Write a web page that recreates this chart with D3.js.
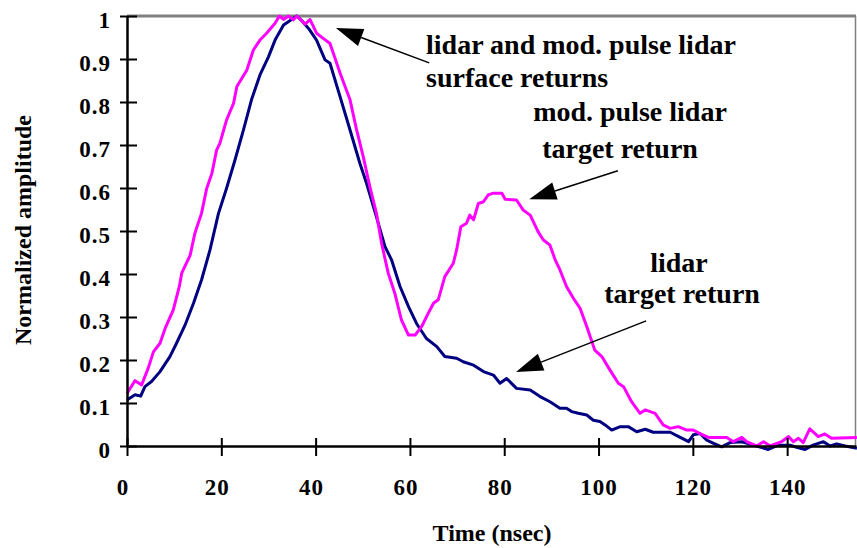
<!DOCTYPE html>
<html>
<head>
<meta charset="utf-8">
<script src="https://cdn.jsdelivr.net/npm/d3@7"></script>
<style>
  body { margin: 0; background: #fff; }
  text { font-family: "Liberation Serif", "Times New Roman", serif; font-weight: bold; fill: #000; }
</style>
</head>
<body>
<div id="chart"></div>
<script>
// time axis (nsec) and normalized amplitude
var lidarT = [0, 1.7, 2.9, 3.8, 5.2, 7, 9.1, 10.5, 12.3, 14.1, 15.8, 17.6, 19.4, 21.1, 22.9, 24.7, 26.4, 28.2, 30, 31.4, 33.2, 34.9, 36, 37, 38.5, 40.2, 42, 43.05,
  45.2, 47.3, 49.4, 50.8, 52.9, 54.7, 56.1, 57.9, 59.7, 61.4, 63.5, 65.7, 67.4, 69.9, 71.3, 73.5, 75.6, 77.7, 79.1, 80.5, 82.6, 85.5, 87.6, 89.7, 91.8,
  93.2, 94.3, 95.7, 97.5, 98.9, 100.3, 101.4, 102.8, 104.6, 106.3, 108.1, 109.9, 111.6, 115.2, 117, 119.1, 120.1, 121.5, 122.9, 124.4, 126.1, 127.9,
  130.4, 132.8, 136, 138.1, 140.6, 142, 143.8, 145.5, 147.7, 149.1, 150.5, 152.3, 154.8];
var lidarAmp = [0.107, 0.119, 0.116, 0.138, 0.15, 0.173, 0.208, 0.239, 0.281, 0.332, 0.386, 0.456, 0.541, 0.599, 0.665, 0.735, 0.805, 0.863, 0.905, 0.944, 0.979, 0.992, 1.0, 0.99, 0.971, 0.944, 0.898, 0.89,
  0.812, 0.735, 0.657, 0.611, 0.533, 0.464, 0.433, 0.371, 0.324, 0.285, 0.25, 0.231, 0.208, 0.204, 0.196, 0.188, 0.173, 0.165, 0.146, 0.157, 0.134, 0.13, 0.115, 0.103, 0.088,
  0.088, 0.08, 0.076, 0.072, 0.06, 0.057, 0.049, 0.037, 0.045, 0.045, 0.033, 0.039, 0.032, 0.032, 0.022, 0.01, 0.026, 0.029, 0.014, 0.006, -0.002, 0.008,
  0.01, 0.002, -0.008, 0.002, 0.002, -0.003, -0.008, 0.002, 0.01, 0, 0.005, 0, -0.005];

var modT = [0, 1.7, 3.1, 4.5, 5.6, 7, 8.1, 9.8, 11.1, 11.6, 13.4, 14.4, 15.8, 16.9, 18, 19, 19.7, 21.1, 22.6, 23.3, 25.4, 26.8, 28.2, 29.6, 31.4, 32.3, 33.2, 34.2, 35.3, 36, 37.8, 38.8, 40.2, 41.6, 43.05,
  45.2, 47.3, 48.7, 50.1, 51.5, 52.9, 54, 55.4, 56.8, 58.2, 59.7, 61.1, 62.5, 63.9, 65, 66, 67.4, 69.2, 69.9, 70.8, 72, 72.7, 73.5, 74.5, 75.6, 76.6, 77.7, 79.5, 80.2, 82.6, 84, 85.5, 87.2, 88.3, 89.7, 90.8, 91.8,
  93.2, 94.7, 96.1, 97.5, 99.2, 100.7, 102.4, 104.2, 105.3, 107, 108.8, 109.9, 112, 113.7, 115.2, 116.9, 118.7, 120.1, 121.5, 123.3, 127.2, 128.6, 130.4, 131.4, 133.5, 135, 136.4,
  138.8, 140.3, 141.3, 142.4, 143.4, 144.8, 146.6, 148, 149.4, 154.8];
var modAmp = [0.122, 0.152, 0.142, 0.181, 0.219, 0.239, 0.274, 0.316, 0.371, 0.402, 0.444, 0.495, 0.541, 0.599, 0.634, 0.688, 0.704, 0.758, 0.797, 0.836, 0.874, 0.921, 0.944, 0.96, 0.983, 1.0, 0.992, 1.0, 0.991, 1.0, 0.981, 0.992, 0.96, 0.948, 0.936,
  0.867, 0.805, 0.735, 0.673, 0.603, 0.541, 0.471, 0.402, 0.355, 0.293, 0.258, 0.258, 0.278, 0.309, 0.332, 0.34, 0.394, 0.425, 0.456, 0.51, 0.518, 0.537, 0.526, 0.564, 0.568, 0.584, 0.588, 0.588, 0.574, 0.572, 0.549, 0.537, 0.498, 0.479, 0.467, 0.433, 0.41,
  0.371, 0.343, 0.32, 0.278, 0.223, 0.208, 0.177, 0.146, 0.138, 0.103, 0.076, 0.084, 0.076, 0.049, 0.041, 0.045, 0.037, 0.037, 0.029, 0.02, 0.02, 0.01, 0.02, 0.01, 0, 0.01, 0,
  0.01, 0.022, 0.01, 0.018, 0.008, 0.04, 0.022, 0.028, 0.018, 0.02];

var xTicks = [0, 20, 40, 60, 80, 100, 120, 140];
var yTicks = [0, 0.1, 0.2, 0.3, 0.4, 0.5, 0.6, 0.7, 0.8, 0.9, 1];

var w = 857, h = 548;
var margin = {top: 16, right: 1, bottom: 102, left: 127};

var svg = d3.select("#chart").append("svg")
  .attr("width", w)
  .attr("height", h);

var x = d3.scaleLinear().domain([0, 154.6]).range([margin.left, w - margin.right]);
var y = d3.scaleLinear().domain([0, 1]).range([h - margin.bottom, margin.top]);

// grey frame on top and right
svg.append("line")
  .attr("x1", x(0)).attr("x2", x(154.6))
  .attr("y1", y(1)).attr("y2", y(1))
  .attr("stroke", "#808080").attr("stroke-width", 3);
svg.append("line")
  .attr("x1", x(154.6) - 0.5).attr("x2", x(154.6) - 0.5)
  .attr("y1", y(1)).attr("y2", y(0))
  .attr("stroke", "#808080").attr("stroke-width", 1.5);

// curves
var line = d3.line()
  .x(function(d) { return x(d[0]); })
  .y(function(d) { return y(d[1]); });

svg.append("path")
  .datum(d3.zip(lidarT, lidarAmp))
  .attr("fill", "none")
  .attr("stroke", "#000080")
  .attr("stroke-width", 3)
  .attr("stroke-linejoin", "round")
  .attr("d", line);

svg.append("path")
  .datum(d3.zip(modT, modAmp))
  .attr("fill", "none")
  .attr("stroke", "#ff00ff")
  .attr("stroke-width", 3)
  .attr("stroke-linejoin", "round")
  .attr("d", line);

// axes
var xAxis = d3.axisBottom(x).tickValues(xTicks).tickSizeOuter(0).tickFormat(d3.format("d"));
var yAxis = d3.axisLeft(y).tickValues(yTicks).tickSizeOuter(0)
  .tickFormat(function(d) { return String(+d.toFixed(1)); });

var gx = svg.append("g")
  .attr("transform", "translate(0," + y(0) + ")")
  .call(xAxis);
gx.select(".domain").attr("stroke", "#000").attr("stroke-width", 2.5);
gx.selectAll(".tick line").attr("y1", -8).attr("y2", 10).attr("stroke", "#000").attr("stroke-width", 2);
gx.selectAll(".tick text")
  .attr("y", 49).attr("dy", null)
  .attr("dx", function(d) { return d < 100 ? "-4.5px" : "0px"; })
  .style("font-size", "23px")
  .style("letter-spacing", "1px");

var gy = svg.append("g")
  .attr("transform", "translate(" + x(0) + ",0)")
  .call(yAxis);
gy.select(".domain").attr("stroke", "#000").attr("stroke-width", 2.5);
gy.selectAll(".tick line").attr("x1", -7).attr("x2", 10).attr("stroke", "#000").attr("stroke-width", 2);
gy.selectAll(".tick text")
  .attr("x", -16).attr("dy", "11.5px")
  .style("font-size", "23px")
  .style("letter-spacing", "1px");

// axis titles
svg.append("text")
  .attr("x", 492).attr("y", 541)
  .attr("text-anchor", "middle")
  .style("font-size", "24px")
  .text("Time (nsec)");

svg.append("text")
  .attr("transform", "translate(31,230) rotate(-90)")
  .attr("text-anchor", "middle")
  .style("font-size", "24px")
  .text("Normalized amplitude");

// annotations
function arrow(x1, y1, x2, y2) {
  var a = svg.append("g");
  var sx = x(x1), sy = y(y1), ex = x(x2), ey = y(y2);
  var ang = Math.atan2(ey - sy, ex - sx);
  var len = 27, half = 9;
  var bx = ex - len * Math.cos(ang), by = ey - len * Math.sin(ang);
  a.append("line")
    .attr("x1", sx).attr("y1", sy).attr("x2", bx).attr("y2", by)
    .attr("stroke", "#000").attr("stroke-width", 1.5);
  a.append("path")
    .attr("d", "M" + ex + "," + ey +
      "L" + (bx + half * Math.sin(ang)) + "," + (by - half * Math.cos(ang)) +
      "L" + (bx - half * Math.sin(ang)) + "," + (by + half * Math.cos(ang)) + "Z")
    .attr("fill", "#000");
}

arrow(64.1, 0.891, 44.3, 0.972);
arrow(104.1, 0.64, 85.3, 0.574);
arrow(110.1, 0.291, 82.5, 0.172);

var notes = [
  {t: "lidar and mod. pulse lidar", x: 426, y: 54, a: "start"},
  {t: "surface returns", x: 426, y: 87, a: "start"},
  {t: "mod. pulse lidar", x: 630, y: 121, a: "middle"},
  {t: "target return", x: 620, y: 158, a: "middle"},
  {t: "lidar", x: 679, y: 272, a: "middle"},
  {t: "target return", x: 682, y: 303, a: "middle"}
];

svg.selectAll(".note")
  .data(notes)
  .enter()
  .append("text")
  .attr("class", "note")
  .attr("x", function(d) { return d.x; })
  .attr("y", function(d) { return d.y; })
  .attr("text-anchor", function(d) { return d.a; })
  .style("font-size", "28px")
  .text(function(d) { return d.t; });
</script>
</body>
</html>
